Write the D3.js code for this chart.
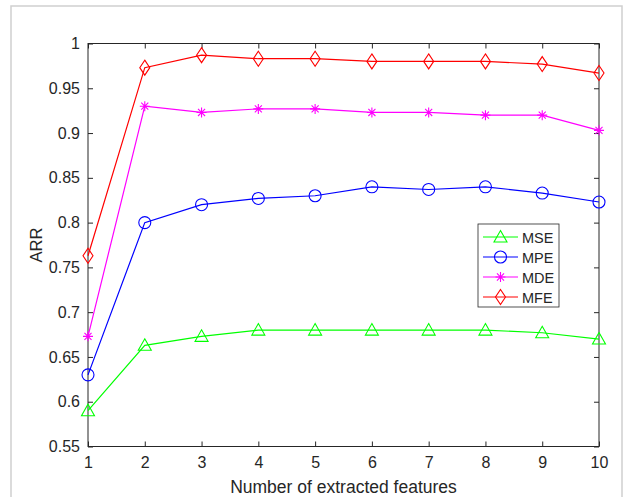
<!DOCTYPE html>
<html>
<head>
<meta charset="utf-8">
<script src="https://cdn.jsdelivr.net/npm/d3@7/dist/d3.min.js"></script>
<style>
  html, body { margin: 0; padding: 0; background: #fff; }
  svg { display: block; font-family: "Liberation Sans", Arial, Helvetica, sans-serif; }
</style>
</head>
<body>
<svg id="chart" width="624" height="497"></svg>
<script>
// Number of extracted features (x) and ARR per entropy method
const features = [1, 2, 3, 4, 5, 6, 7, 8, 9, 10];
const mse = [0.590, 0.663, 0.673, 0.680, 0.680, 0.680, 0.680, 0.680, 0.677, 0.670];
const mpe = [0.630, 0.800, 0.820, 0.827, 0.830, 0.840, 0.837, 0.840, 0.833, 0.823];
const mde = [0.673, 0.930, 0.923, 0.927, 0.927, 0.923, 0.923, 0.920, 0.920, 0.903];
const mfe = [0.763, 0.973, 0.987, 0.983, 0.983, 0.980, 0.980, 0.980, 0.977, 0.967];
const seriesNames = ["MSE", "MPE", "MDE", "MFE"];
const yTicks = [0.55, 0.6, 0.65, 0.7, 0.75, 0.8, 0.85, 0.9, 0.95, 1];
const yTickLabels = ["0.55", "0.6", "0.65", "0.7", "0.75", "0.8", "0.85", "0.9", "0.95", "1"];

const series = [
  { name: seriesNames[0], values: mse, color: "#00ff00", marker: "triangle" },
  { name: seriesNames[1], values: mpe, color: "#0000ff", marker: "circle" },
  { name: seriesNames[2], values: mde, color: "#ff00ff", marker: "asterisk" },
  { name: seriesNames[3], values: mfe, color: "#ff0000", marker: "diamond" }
];

const svg = d3.select("#chart");
const axisColor = "#262626";

// Outer frame
svg.append("rect")
  .attr("x", 11).attr("y", 6).attr("width", 611).attr("height", 520)
  .attr("fill", "none").attr("stroke", "#cfcfcf").attr("stroke-width", 1.5);

const plot = { left: 88, right: 599, top: 43.5, bottom: 446.5 };
const x = d3.scaleLinear().domain([1, 10]).range([plot.left, plot.right]);
const y = d3.scaleLinear().domain([0.55, 1]).range([plot.bottom, plot.top]);

// Axes with inward ticks on all four sides (box on)
const tickLen = 5;
const g = svg.append("g");

g.append("g").attr("transform", `translate(0,${plot.bottom})`)
  .call(d3.axisBottom(x).tickValues(features).tickFormat(d3.format("d"))
    .tickSizeInner(-tickLen).tickSizeOuter(0).tickPadding(10))
  .call(a => a.select(".domain").remove());
g.append("g").attr("transform", `translate(0,${plot.top})`)
  .call(d3.axisTop(x).tickValues(features).tickFormat("")
    .tickSizeInner(-tickLen).tickSizeOuter(0))
  .call(a => a.select(".domain").remove());
g.append("g").attr("transform", `translate(${plot.left},0)`)
  .call(d3.axisLeft(y).tickValues(yTicks).tickFormat((d, i) => yTickLabels[i])
    .tickSizeInner(-tickLen).tickSizeOuter(0).tickPadding(8))
  .call(a => a.select(".domain").remove());
g.append("g").attr("transform", `translate(${plot.right},0)`)
  .call(d3.axisRight(y).tickValues(yTicks).tickFormat("")
    .tickSizeInner(-tickLen).tickSizeOuter(0))
  .call(a => a.select(".domain").remove());

g.selectAll(".tick line").attr("stroke", axisColor).attr("stroke-width", 1);
g.selectAll(".tick text").attr("fill", axisColor)
  .style("font-size", "16px").style("font-family", "'Liberation Sans', Arial, sans-serif");

g.append("rect")
  .attr("x", plot.left).attr("y", plot.top)
  .attr("width", plot.right - plot.left).attr("height", plot.bottom - plot.top)
  .attr("fill", "none").attr("stroke", axisColor).attr("stroke-width", 1);

// Axis titles
svg.append("text")
  .attr("x", (plot.left + plot.right) / 2).attr("y", 493)
  .attr("text-anchor", "middle").attr("fill", axisColor)
  .style("font-size", "17.5px")
  .text("Number of extracted features");
svg.append("text")
  .attr("transform", `translate(42,${(plot.top + plot.bottom) / 2}) rotate(-90)`)
  .attr("text-anchor", "middle").attr("fill", axisColor)
  .style("font-size", "16.5px")
  .text("ARR");

// Marker shapes
function drawMarker(sel, type, color) {
  if (type === "triangle") {
    sel.append("path").attr("d", "M0,-6.5 L6.5,5 L-6.5,5 Z")
      .attr("fill", "none").attr("stroke", color).attr("stroke-width", 1.1);
  } else if (type === "circle") {
    sel.append("circle").attr("r", 6)
      .attr("fill", "none").attr("stroke", color).attr("stroke-width", 1.1);
  } else if (type === "diamond") {
    sel.append("path").attr("d", "M0,-7.5 L5,0 L0,7.5 L-5,0 Z")
      .attr("fill", "none").attr("stroke", color).attr("stroke-width", 1.1);
  } else if (type === "asterisk") {
    const r = 5;
    const d = r * 0.7071;
    sel.append("path")
      .attr("d", `M0,${-r} L0,${r} M${-r},0 L${r},0 M${-d},${-d} L${d},${d} M${-d},${d} L${d},${-d}`)
      .attr("fill", "none").attr("stroke", color).attr("stroke-width", 1.1);
  }
}

const line = d3.line().x((d, i) => x(features[i])).y(d => y(d));

series.forEach(s => {
  const sg = svg.append("g");
  sg.append("path").datum(s.values)
    .attr("d", line).attr("fill", "none")
    .attr("stroke", s.color).attr("stroke-width", 1.2);
  sg.selectAll("g.m").data(s.values).join("g").attr("class", "m")
    .attr("transform", (d, i) => `translate(${x(features[i])},${y(d)})`)
    .each(function () { drawMarker(d3.select(this), s.marker, s.color); });
});

// Legend
const lg = svg.append("g").attr("transform", "translate(478,224)");
lg.append("rect").attr("width", 81).attr("height", 83)
  .attr("fill", "#fff").attr("stroke", axisColor).attr("stroke-width", 0.8);
series.forEach((s, i) => {
  const row = lg.append("g").attr("transform", `translate(0,${13 + i * 20})`);
  row.append("line").attr("x1", 5).attr("x2", 40).attr("y1", 0).attr("y2", 0)
    .attr("stroke", s.color).attr("stroke-width", 1.2);
  const m = row.append("g").attr("transform", "translate(22.5,0)");
  drawMarker(m, s.marker, s.color);
  row.append("text").attr("x", 44).attr("y", 5.5)
    .attr("fill", axisColor).style("font-size", "14.5px").text(s.name);
});
</script>
</body>
</html>
